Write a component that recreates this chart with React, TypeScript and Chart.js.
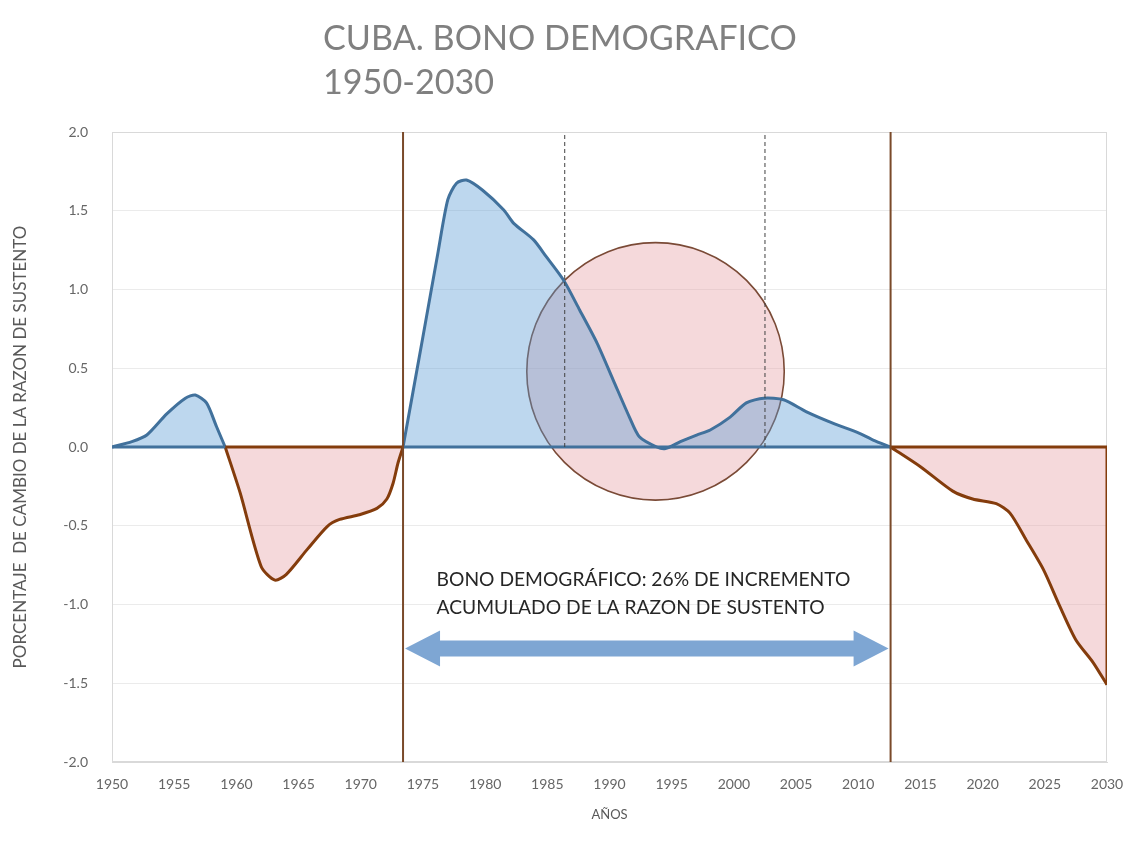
import React, { useEffect, useRef } from 'react';
import { Chart, registerables } from 'chart.js';

Chart.register(...registerables);

// ---- Data ----
const years = [
  1950, 1951.6, 1952.8, 1954.4, 1955.9, 1956.7, 1957.6, 1958.4, 1959.1,
  1960.3, 1962.0, 1963.1, 1964.0, 1965.7, 1967.3, 1968.3, 1969.9, 1971.3, 1972.1, 1972.6, 1973.0, 1973.4,
  1975.0, 1976.2, 1977.0, 1977.7, 1978.5, 1979.8, 1981.5, 1982.3, 1983.9, 1984.9, 1986.3, 1987.6, 1989.0,
  1990.3, 1991.6, 1992.4, 1993.8, 1994.5, 1995.7, 1997.0, 1998.1, 1999.7, 2001.0, 2002.4, 2004.0, 2005.8,
  2008.0, 2010.1, 2011.2, 2012.6,
  2015.0, 2017.6, 2019.2, 2021.1, 2022.2, 2023.5, 2024.9, 2026.2, 2027.5, 2028.9, 2030,
];
const ratioChange = [
  0, 0.034, 0.076, 0.21, 0.31, 0.33, 0.28, 0.13, 0,
  -0.29, -0.76, -0.845, -0.81, -0.65, -0.505, -0.46, -0.43, -0.39, -0.33, -0.23, -0.1, 0,
  0.7, 1.23, 1.57, 1.675, 1.695, 1.63, 1.505, 1.42, 1.315, 1.21, 1.06, 0.87, 0.66,
  0.425, 0.19, 0.065, 0.0, -0.01, 0.034, 0.076, 0.108, 0.19, 0.28, 0.31, 0.3, 0.225,
  0.15, 0.087, 0.044, 0,
  -0.125, -0.28, -0.33, -0.36, -0.42, -0.59, -0.78, -1.01, -1.225, -1.37, -1.51,
];
// phase boundaries
const phaseStarts = [1950, 1959.1, 1973.4, 2012.6];
const phaseEnds = [1959.1, 1973.4, 2012.6, 2030];
const phaseIsBonus = [true, false, true, false];
const bonusLimits = [1973.4, 2012.6];
const markerYears = [1986.4, 2002.5];
const circleCenter = { year: 1993.7, value: 0.48, radiusYears: 10.35 };
const arrowLevel = -1.28;
const xMin = 1950, xMax = 2030, xStep = 5;
const yMin = -2, yMax = 2, yStep = 0.5;

const titleLines = ['CUBA. BONO DEMOGRAFICO', '1950-2030'];
const noteLines = ['BONO DEMOGRÁFICO: 26% DE INCREMENTO', 'ACUMULADO DE LA RAZON DE SUSTENTO'];
const yTitle = 'PORCENTAJE  DE CAMBIO DE LA RAZON DE SUSTENTO';
const xTitle = 'AÑOS';

// ---- Styles ----
const FONT = 'Lato, "Open Sans", sans-serif';
const BLUE_LINE = '#41719C';
const BLUE_FILL = 'rgba(91,155,213,0.4)';
const BROWN_LINE = '#843C0C';
const PINK_FILL = 'rgba(230,160,165,0.4)';
const VLINE = '#7A4A2A';

function fitSize(ctx: CanvasRenderingContext2D, text: string, width: number, weight: string) {
  ctx.font = `${weight} 100px ${FONT}`;
  const w = ctx.measureText(text).width;
  return (100 * width) / w;
}

const decor = {
  id: 'decor',
  beforeDatasetsDraw(chart: any) {
    const { ctx, chartArea, scales } = chart;
    const x = scales.x, y = scales.y;
    ctx.save();
    ctx.strokeStyle = '#d9d9d9';
    ctx.lineWidth = 1;
    ctx.strokeRect(chartArea.left + 0.5, chartArea.top + 0.5, chartArea.right - chartArea.left - 1, chartArea.bottom - chartArea.top - 1);
    const cx = x.getPixelForValue(circleCenter.year);
    const cy = y.getPixelForValue(circleCenter.value);
    const r = x.getPixelForValue(circleCenter.year + circleCenter.radiusYears) - cx;
    ctx.beginPath();
    ctx.arc(cx, cy, r, 0, Math.PI * 2);
    ctx.fillStyle = PINK_FILL;
    ctx.fill();
    ctx.strokeStyle = '#7a4a36';
    ctx.lineWidth = 1.6;
    ctx.stroke();
    ctx.restore();
  },
  afterDatasetsDraw(chart: any) {
    const { ctx, scales } = chart;
    const x = scales.x, y = scales.y;
    ctx.save();
    const x0 = x.getPixelForValue(bonusLimits[0]) + 2;
    const x1 = x.getPixelForValue(bonusLimits[1]) - 2;
    const ay = y.getPixelForValue(arrowLevel);
    const half = 8, headH = 18, headL = 35;
    ctx.fillStyle = '#7EA6D3';
    ctx.beginPath();
    ctx.moveTo(x0, ay);
    ctx.lineTo(x0 + headL, ay - headH);
    ctx.lineTo(x0 + headL, ay - half);
    ctx.lineTo(x1 - headL, ay - half);
    ctx.lineTo(x1 - headL, ay - headH);
    ctx.lineTo(x1, ay);
    ctx.lineTo(x1 - headL, ay + headH);
    ctx.lineTo(x1 - headL, ay + half);
    ctx.lineTo(x0 + headL, ay + half);
    ctx.lineTo(x0 + headL, ay + headH);
    ctx.closePath();
    ctx.fill();
    const tx = x.getPixelForValue(1976.1);
    const size = fitSize(ctx, noteLines[0], 414, '400');
    ctx.font = `400 ${size}px ${FONT}`;
    ctx.fillStyle = '#262626';
    ctx.textAlign = 'left';
    ctx.textBaseline = 'alphabetic';
    ctx.fillText(noteLines[0], tx, y.getPixelForValue(-0.885));
    ctx.fillText(noteLines[1], tx, y.getPixelForValue(-1.06));
    ctx.restore();
  },
  afterDraw(chart: any) {
    const { ctx } = chart;
    ctx.save();
    const size = fitSize(ctx, titleLines[0], 474, '400');
    ctx.font = `400 ${size}px ${FONT}`;
    ctx.fillStyle = '#808080';
    ctx.textAlign = 'left';
    ctx.textBaseline = 'alphabetic';
    ctx.fillText(titleLines[0], 323, 50);
    ctx.fillText(titleLines[1], 323, 94);
    ctx.restore();
  },
};

function pts(from: number, to: number) {
  const out: { x: number; y: number }[] = [];
  years.forEach((yr, i) => {
    if (yr >= from - 1e-9 && yr <= to + 1e-9) out.push({ x: yr, y: ratioChange[i] });
  });
  return out;
}

export default function App() {
  const ref = useRef<HTMLCanvasElement | null>(null);
  useEffect(() => {
    document.body.style.margin = '0';
    if (!ref.current) return;
    const datasets: any[] = [];
    phaseStarts.forEach((s, i) => {
      const e = phaseEnds[i];
      const bonus = phaseIsBonus[i];
      datasets.push({
        label: bonus ? 'bono' : 'deficit',
        data: pts(s, e),
        borderColor: bonus ? BLUE_LINE : BROWN_LINE,
        backgroundColor: bonus ? BLUE_FILL : PINK_FILL,
        borderWidth: 3,
        fill: 'origin',
        tension: 0.25,
        pointRadius: 0,
        order: 5,
      });
      const base: any[] = [{ x: s, y: 0 }, { x: e, y: 0 }];
      if (i === phaseStarts.length - 1) {
        base.push({ x: e, y: ratioChange[ratioChange.length - 1] });
      }
      datasets.push({
        label: 'base' + i,
        data: base,
        borderColor: bonus ? BLUE_LINE : BROWN_LINE,
        borderWidth: 3,
        fill: false,
        pointRadius: 0,
        tension: 0,
        order: 4,
      });
    });
    bonusLimits.forEach((yr, i) => {
      datasets.push({
        label: 'limit' + i,
        data: [{ x: yr, y: yMin }, { x: yr, y: yMax }],
        borderColor: VLINE,
        borderWidth: 2,
        fill: false,
        pointRadius: 0,
        order: 2,
      });
    });
    markerYears.forEach((yr, i) => {
      datasets.push({
        label: 'marker' + i,
        data: [{ x: yr, y: 0 }, { x: yr, y: yMax }],
        borderColor: '#404040',
        borderWidth: 1,
        borderDash: [4, 3],
        fill: false,
        pointRadius: 0,
        order: 3,
      });
    });

    const chart = new Chart(ref.current, {
      type: 'line',
      data: { datasets },
      plugins: [decor],
      options: {
        animation: false,
        responsive: false,
        devicePixelRatio: 1,
        layout: { padding: { top: 132, right: 22, bottom: 0, left: 0 } },
        plugins: {
          legend: { display: false },
          tooltip: { enabled: false },
          title: { display: false },
        },
        scales: {
          x: {
            type: 'linear',
            min: xMin,
            max: xMax,
            ticks: {
              stepSize: xStep,
              autoSkip: false,
              maxRotation: 0,
              padding: 14,
              color: '#666666',
              font: { family: FONT, size: 14 },
              callback: (v: any) => String(v),
            },
            grid: { display: false, drawTicks: false },
            border: { display: true, color: '#d9d9d9' },
            title: {
              display: true,
              text: xTitle,
              color: '#595959',
              font: { family: FONT, size: 13 },
              padding: { top: 0, bottom: 27 },
            },
            afterFit: (s: any) => { s.height = 88; s.paddingRight = 0; s.paddingLeft = 0; },
          },
          y: {
            type: 'linear',
            min: yMin,
            max: yMax,
            ticks: {
              stepSize: yStep,
              padding: 24,
              color: '#666666',
              font: { family: FONT, size: 14 },
              callback: (v: any) => Number(v).toFixed(1),
            },
            grid: { color: '#ebebeb', drawTicks: false },
            border: { display: true, color: '#d9d9d9' },
            title: {
              display: true,
              text: yTitle,
              color: '#595959',
              font: { family: FONT, size: 17 },
              padding: { top: 10, bottom: 0 },
            },
            afterFit: (s: any) => { s.width = 112; },
          },
        },
      },
    } as any);
    return () => chart.destroy();
  }, []);
  return (
    <div style={{ width: 1129, height: 850 }}>
      <canvas ref={ref} width={1129} height={850} />
    </div>
  );
}
